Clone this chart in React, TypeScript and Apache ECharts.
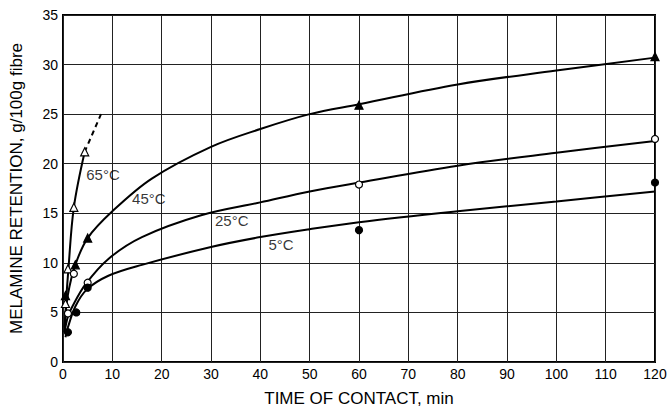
import React, { useEffect, useRef } from "react";
import * as echarts from "echarts";

// Measured points (time of contact, min ; melamine retention, g/100g fibre)
const pts65: number[][] = [[0.5, 5.9], [1, 9.4], [2.2, 15.6], [4.4, 21.2]];
const pts45: number[][] = [[0.5, 6.7], [2.5, 9.8], [5, 12.5], [60, 25.9], [120, 30.8]];
const pts25: number[][] = [[1, 4.9], [2.2, 8.9], [5, 8.0], [60, 17.9], [120, 22.5]];
const pts5: number[][] = [[1, 3.0], [2.7, 5.0], [5, 7.5], [60, 13.3], [120, 18.1]];

// Fitted (hand-drawn) curves
const curve65: number[][] = [[0.3, 3.0], [0.6, 5.9], [1.1, 9.4], [2.2, 15.6], [4.4, 21.2]];
const curve65Dashed: number[][] = [[4.4, 21.2], [7.7, 25.0]];
const curve45: number[][] = [
  [0.3, 3.5], [1, 6.8], [2.5, 9.8], [5, 12.5], [10, 15.2], [18, 18.5], [30, 21.7],
  [40, 23.5], [50, 25.0], [60, 26.0], [80, 28.0], [100, 29.4], [120, 30.7],
];
const curve25: number[][] = [
  [0.3, 3.0], [1, 4.6], [1.8, 5.5], [4.5, 7.8], [9.2, 10.4], [16, 12.6], [28, 14.8],
  [40, 16.1], [50, 17.2], [60, 18.1], [80, 19.8], [100, 21.1], [120, 22.3],
];
const curve5: number[][] = [
  [0.5, 2.5], [1, 3.5], [2.5, 5.6], [4.8, 7.3], [9.2, 8.7], [16, 9.8], [30, 11.6],
  [40, 12.6], [50, 13.4], [60, 14.1], [80, 15.2], [100, 16.2], [120, 17.2],
];

// Curve labels: [time, retention, text]
const curveLabels: (number | string)[][] = [
  [8.1, 18.9, "65°C"],
  [17.4, 16.5, "45°C"],
  [34.2, 14.3, "25°C"],
  [44.2, 11.9, "5°C"],
];

const xTitle = "TIME OF CONTACT, min";
const yTitle = "MELAMINE RETENTION, g/100g fibre";

const FONT = "Liberation Sans";

export default function App() {
  const ref = useRef<HTMLDivElement>(null);
  useEffect(() => {
    if (!ref.current) return;
    const chart = echarts.init(ref.current, undefined, { renderer: "svg" });
    const curveSeries = (data: number[][], dashed = false) => ({
      type: "line",
      data,
      smooth: 0.35,
      showSymbol: false,
      symbol: "none",
      lineStyle: { color: "#000", width: 2, type: dashed ? [5, 4] : "solid" },
      silent: true,
      z: 3,
    });
    const ptSeries = (data: number[][], symbol: string, open: boolean, size: number) => ({
      type: "scatter",
      data,
      symbol,
      symbolSize: size,
      itemStyle: {
        color: open ? "#fff" : "#000",
        borderColor: "#000",
        borderWidth: 1.2,
        opacity: 1,
      },
      z: 5,
    });
    chart.setOption({
      animation: false,
      backgroundColor: "#fff",
      grid: {
        left: 61,
        right: 15,
        top: 15,
        bottom: 43,
        show: true,
        borderColor: "#000",
        borderWidth: 2,
        backgroundColor: "transparent",
      },
      xAxis: {
        type: "value",
        min: 0,
        max: 120,
        interval: 10,
        name: xTitle,
        nameLocation: "middle",
        nameGap: 28,
        nameTextStyle: { fontFamily: FONT, fontSize: 17, color: "#000" },
        axisLine: { show: false },
        axisTick: { show: false },
        axisLabel: { fontFamily: FONT, fontSize: 14, color: "#000", margin: 5 },
        splitLine: { show: true, lineStyle: { color: "#222", width: 1 } },
      },
      yAxis: {
        type: "value",
        min: 0,
        max: 35,
        interval: 5,
        name: yTitle,
        nameLocation: "middle",
        nameGap: 38,
        nameTextStyle: { fontFamily: FONT, fontSize: 17, color: "#000" },
        axisLine: { show: false },
        axisTick: { show: false },
        axisLabel: { fontFamily: FONT, fontSize: 14, color: "#000", margin: 5 },
        splitLine: { show: true, lineStyle: { color: "#222", width: 1 } },
      },
      series: [
        curveSeries(curve65),
        curveSeries(curve65Dashed, true),
        curveSeries(curve45),
        curveSeries(curve25),
        curveSeries(curve5),
        ptSeries(pts65, "triangle", true, 8),
        ptSeries(pts45, "triangle", false, 8),
        ptSeries(pts25, "circle", true, 7),
        ptSeries(pts5, "circle", false, 7),
        {
          type: "scatter",
          data: curveLabels.map((d) => ({ value: [d[0], d[1]], name: d[2] })),
          symbolSize: 1,
          itemStyle: { color: "transparent" },
          label: {
            show: true,
            position: "inside",
            formatter: (p: any) => p.name,
            fontFamily: FONT,
            fontSize: 15,
            color: "#000",
          },
          silent: true,
          z: 6,
        },
      ],
    });
    return () => chart.dispose();
  }, []);
  return (
    <div
      ref={ref}
      style={{ position: "fixed", left: 0, top: 0, width: 670, height: 412 }}
    />
  );
}
